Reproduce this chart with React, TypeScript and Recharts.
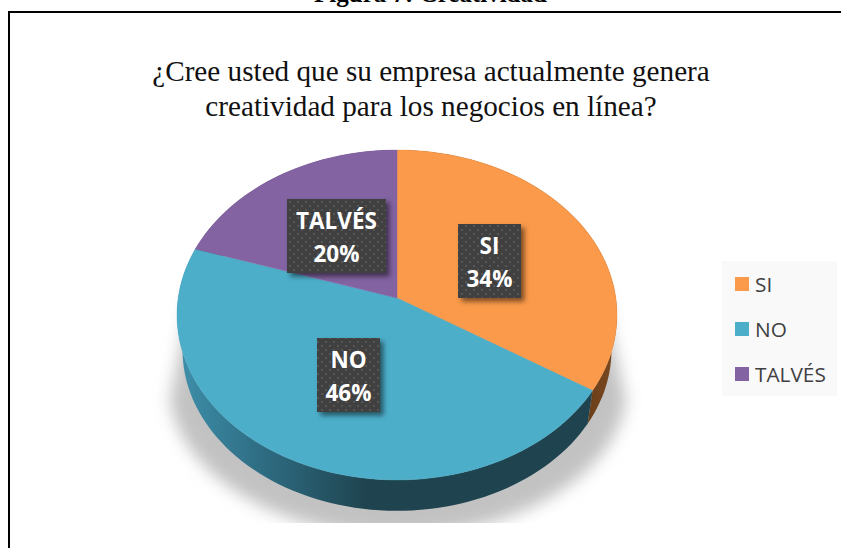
import React from 'react';
import { PieChart, Pie, Legend } from 'recharts';

const categories = ['SI', 'NO', 'TALVÉS'];
const shares = [34, 46, 20];
const faceColors = ['#FB9A4A', '#4CAEC9', '#8363A2'];
const wallFills = ['url(#wallOrange)', 'url(#wallBlue)', '#4a3560'];
const captionText = 'Figura 7: Creatividad';
const titleLines = ['¿Cree usted que su empresa actualmente genera', 'creatividad para los negocios en línea?'];

const faceData = categories.map((name, i) => ({ name, value: shares[i], fill: faceColors[i] }));
const wallData = categories.map((name, i) => ({ name, value: shares[i], fill: wallFills[i] }));

// Tilted-disc projection: a unit circle seen in perspective, nearer edge larger.
const TILT_K = 0.103;
const SCALE_X = 218.8;
const SCALE_Y = 163.2;
const WALL_SHRINK = 0.975;
const WALL_DROP = 35;
const ELLIPSE_MID_Y = 315;

function project(cx: number, cy: number, deg: number, r = 1) {
  const a = (deg * Math.PI) / 180;
  const u = Math.cos(a) * r;
  const v = -Math.sin(a) * r;
  const w = 1 - TILT_K * v;
  return { x: cx + (SCALE_X * u) / w, y: cy + (SCALE_Y * v) / w };
}

function arcPoints(cx: number, cy: number, start: number, end: number) {
  const steps = Math.max(8, Math.ceil(Math.abs(end - start) / 2));
  const pts = [];
  for (let i = 0; i <= steps; i++) {
    pts.push(project(cx, cy, start + ((end - start) * i) / steps));
  }
  return pts;
}

const toPath = (pts: { x: number; y: number }[]) =>
  pts.map((p, i) => `${i ? 'L' : 'M'}${p.x.toFixed(2)} ${p.y.toFixed(2)}`).join(' ') + ' Z';

function FaceShape(props: any) {
  const { cx, cy, startAngle, endAngle, fill } = props;
  const pts = [{ x: cx, y: cy }, ...arcPoints(cx, cy, startAngle, endAngle)];
  return <path d={toPath(pts)} fill={fill} stroke={fill} strokeWidth={0.4} />;
}

function WallShape(props: any) {
  const { cx, cy, startAngle, endAngle, fill } = props;
  const top = arcPoints(cx, cy, startAngle, endAngle);
  const bottom = top
    .map((p) => ({
      x: cx + WALL_SHRINK * (p.x - cx),
      y: ELLIPSE_MID_Y + WALL_DROP + WALL_SHRINK * (p.y - ELLIPSE_MID_Y),
    }))
    .reverse();
  return <path d={toPath([...top, ...bottom])} fill={fill} />;
}

function BoxLabel(props: any) {
  const { cx, cy, midAngle, name, value } = props;
  const p = project(cx, cy, midAngle, 0.492);
  const width = name.length > 3 ? 99 : 63;
  const height = 74;
  const left = Math.round(p.x - width / 2);
  const top = Math.round(p.y + 0.7 - height / 2);
  const textStyle = {
    fontFamily: '"Open Sans", sans-serif',
    fontWeight: 700,
    fontSize: 22.5,
    fill: '#ffffff',
  };
  return (
    <g>
      <rect x={left} y={top} width={width} height={height} fill="#404040" filter="url(#boxShadow)" />
      <rect x={left} y={top} width={width} height={height} fill="url(#dots)" />
      <text x={left + width / 2} y={top + 30} textAnchor="middle" style={textStyle}>{name}</text>
      <text x={left + width / 2} y={top + 62.5} textAnchor="middle" style={textStyle}>{`${value}%`}</text>
    </g>
  );
}

// Only the top-face series is listed, in category order.
function LegendPanel({ payload }: any) {
  const entries = categories
    .map((name, i) => (payload || []).find((e: any) => e.value === name && e.color === faceColors[i]))
    .filter(Boolean);
  return (
    <div style={{ width: 115, height: 135, background: '#F9F9F9', position: 'relative' }}>
      {entries.map((entry: any, i: number) => (
        <div key={entry.value} style={{ position: 'absolute', left: 13, top: 16 + i * 45, height: 14, display: 'flex', alignItems: 'center' }}>
          <span style={{ width: 14, height: 14, background: entry.color, display: 'inline-block', marginRight: 6 }} />
          <span style={{ fontFamily: '"Open Sans", sans-serif', fontSize: 20.8, color: '#404040', lineHeight: '14px', whiteSpace: 'nowrap' }}>{entry.value}</span>
        </div>
      ))}
    </div>
  );
}

export default function App() {
  return (
    <div style={{ position: 'absolute', left: 0, top: 0, width: 841, height: 548, background: '#fff', overflow: 'hidden' }}>
      <PieChart width={841} height={548} margin={{ top: 0, right: 0, bottom: 0, left: 0 }}>
        <defs>
          <linearGradient id="wallBlue" gradientUnits="userSpaceOnUse" x1={180} y1={0} x2={365} y2={0}>
            <stop offset="0" stopColor="#3E8EA9" />
            <stop offset="0.45" stopColor="#2E6C82" />
            <stop offset="1" stopColor="#1F4450" />
          </linearGradient>
          <linearGradient id="wallOrange" gradientUnits="userSpaceOnUse" x1={585} y1={0} x2={615} y2={0}>
            <stop offset="0" stopColor="#6A3D19" />
            <stop offset="1" stopColor="#7A4A20" />
          </linearGradient>
          <pattern id="dots" width={8} height={8} patternUnits="userSpaceOnUse">
            <rect x={1} y={1} width={2} height={2} fill="#565656" />
            <rect x={5} y={5} width={2} height={2} fill="#565656" />
          </pattern>
          <filter id="boxShadow" x="-30%" y="-30%" width="170%" height="170%">
            <feDropShadow dx={3.5} dy={3.5} stdDeviation={2.5} floodColor="#000" floodOpacity={0.5} />
          </filter>
          <filter id="groundBlur" x="-10%" y="-10%" width="120%" height="120%">
            <feGaussianBlur stdDeviation={8} />
          </filter>
          <clipPath id="groundClip">
            <rect x={150} y={240} width={500} height={283} />
          </clipPath>
        </defs>

        {/* page frame and headings */}
        <path d="M9 548 V12 H841" fill="none" stroke="#000" strokeWidth={2} />
        <text x={430.5} y={2} textAnchor="middle" style={{ fontFamily: '"Liberation Serif", serif', fontWeight: 700, fontSize: 25 }}>
          {captionText}
        </text>
        {titleLines.map((line, i) => (
          <text key={line} x={431} y={81 + i * 35} textAnchor="middle" fill="#111" style={{ fontFamily: '"Liberation Serif", serif', fontSize: 29.2 }}>
            {line}
          </text>
        ))}

        {/* soft ground shadow below the disc */}
        <g clipPath="url(#groundClip)">
          <path
            d="M192 290 L170 400 C182 482 290 536 397 536 C505 536 614 482 626 400 L602 290 Z"
            fill="#c2c2c2"
            filter="url(#groundBlur)"
          />
        </g>

        <Pie
          data={wallData}
          dataKey="value"
          nameKey="name"
          cx={397}
          cy={298}
          outerRadius={220}
          startAngle={90}
          endAngle={-270}
          stroke="none"
          legendType="none"
          isAnimationActive={false}
          shape={WallShape}
        />
        <Pie
          data={faceData}
          dataKey="value"
          nameKey="name"
          cx={397}
          cy={298}
          outerRadius={220}
          startAngle={90}
          endAngle={-270}
          stroke="none"
          isAnimationActive={false}
          shape={FaceShape}
          label={BoxLabel}
          labelLine={false}
        />
        <Legend
          content={<LegendPanel />}
          wrapperStyle={{ position: 'absolute', left: 722, top: 261, width: 115, height: 135, bottom: 'auto' }}
        />
      </PieChart>
    </div>
  );
}
